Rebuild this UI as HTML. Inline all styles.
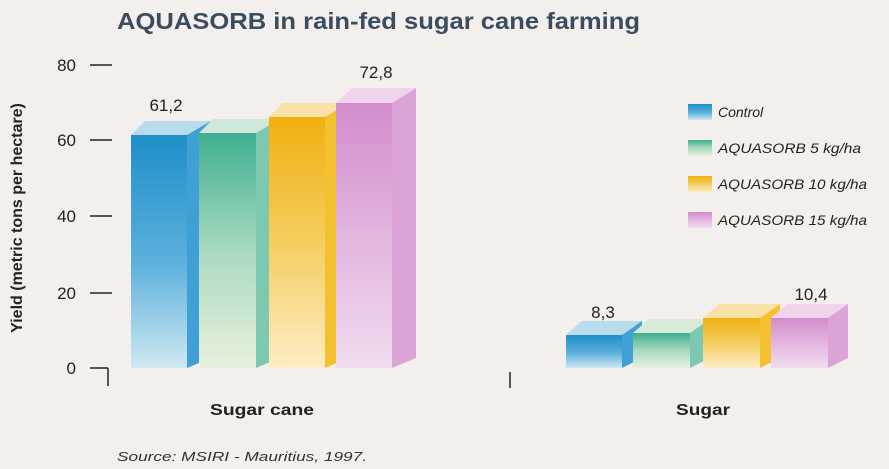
<!DOCTYPE html>
<html><head><meta charset="utf-8"><style>
html,body{margin:0;padding:0;background:#f2efed;}
svg{display:block;font-family:"Liberation Sans",sans-serif;}
</style></head><body>
<svg width="889" height="469" viewBox="0 0 889 469" xmlns="http://www.w3.org/2000/svg">
<defs>
<linearGradient id="gb" x1="0" y1="0" x2="0" y2="1"><stop offset="0" stop-color="#1e8fc8"/><stop offset="0.55" stop-color="#5cb0dc"/><stop offset="1" stop-color="#cfe8f2"/></linearGradient>
<linearGradient id="gg" x1="0" y1="0" x2="0" y2="1"><stop offset="0" stop-color="#3fae90"/><stop offset="0.5" stop-color="#a9d9c0"/><stop offset="1" stop-color="#e8f1dc"/></linearGradient>
<linearGradient id="gy" x1="0" y1="0" x2="0" y2="1"><stop offset="0" stop-color="#f0b010"/><stop offset="0.5" stop-color="#f5cd60"/><stop offset="1" stop-color="#fbecc4"/></linearGradient>
<linearGradient id="gp" x1="0" y1="0" x2="0" y2="1"><stop offset="0" stop-color="#d28ccc"/><stop offset="0.5" stop-color="#e3b5df"/><stop offset="1" stop-color="#f1dcef"/></linearGradient>
</defs>
<rect width="889" height="469" fill="#f2efed"/>
<text x="117" y="29" font-size="23" font-weight="bold" fill="#3b4c5e" textLength="523" lengthAdjust="spacingAndGlyphs">AQUASORB in rain-fed sugar cane farming</text>
<g stroke="#222" stroke-width="1.5">
<line x1="90" y1="65" x2="112" y2="65"/><line x1="90" y1="140" x2="112" y2="140"/><line x1="90" y1="216" x2="112" y2="216"/><line x1="90" y1="293" x2="112" y2="293"/><line x1="90" y1="368" x2="108" y2="368"/>
<line x1="108" y1="368" x2="108" y2="386"/><line x1="510" y1="372" x2="510" y2="388"/>
</g>
<g font-size="17" fill="#222" text-anchor="end">
<text x="76" y="71">80</text><text x="76" y="146">60</text><text x="76" y="222">40</text><text x="76" y="299">20</text><text x="76" y="374">0</text>
</g>
<text transform="translate(22,218) rotate(-90)" font-size="16" font-weight="bold" fill="#222" text-anchor="middle">Yield (metric tons per hectare)</text>
<g>
<polygon points="131,135 145,121 211,121 197,135" fill="#b8dcec"/><polygon points="187,135 211,121 211,358 187,368" fill="#3ea0d4"/><rect x="131" y="135" width="56" height="233" fill="url(#gb)"/>
<polygon points="199,133 213,119 280,119 266,133" fill="#cfe8d8"/><polygon points="256,133 280,119 280,358 256,368" fill="#7cc8b0"/><rect x="199" y="133" width="57" height="235" fill="url(#gg)"/>
<polygon points="269,117 283,103 349,103 335,117" fill="#f8e2a8"/><polygon points="325,117 349,103 349,358 325,368" fill="#f3c030"/><rect x="269" y="117" width="56" height="251" fill="url(#gy)"/>
<polygon points="336,103 352,88 416,88 392,103" fill="#f0d3ec"/><polygon points="392,103 416,88 416,358 392,368" fill="#dca4d6"/><rect x="336" y="103" width="56" height="265" fill="url(#gp)"/>
</g>
<g>
<polygon points="566,335 582,321 642,321 622,335" fill="#b8dcec"/><polygon points="622,335 642,321 642,358 622,368" fill="#3ea0d4"/><rect x="566" y="335" width="56" height="33" fill="url(#gb)"/>
<polygon points="633,333 649,319 710,319 690,333" fill="#d8ecd8"/><polygon points="690,333 710,319 710,358 690,368" fill="#7cc8b0"/><rect x="633" y="333" width="57" height="35" fill="url(#gg)"/>
<polygon points="703,318 719,304 780,304 760,318" fill="#f8e2a8"/><polygon points="760,318 780,304 780,358 760,368" fill="#f3c030"/><rect x="703" y="318" width="57" height="50" fill="url(#gy)"/>
<polygon points="771,318 787,304 848,304 828,318" fill="#f0d3ec"/><polygon points="828,318 848,304 848,358 828,368" fill="#dca4d6"/><rect x="771" y="318" width="57" height="50" fill="url(#gp)"/>
</g>
<g font-size="17" fill="#222" text-anchor="middle">
<text x="166" y="111">61,2</text><text x="376" y="78">72,8</text><text x="603" y="318">8,3</text><text x="811" y="300">10,4</text>
</g>
<g font-size="16" font-weight="bold" fill="#222">
<text x="210" y="415" textLength="104" lengthAdjust="spacingAndGlyphs">Sugar cane</text><text x="676" y="415" textLength="54" lengthAdjust="spacingAndGlyphs">Sugar</text>
</g>
<g>
<rect x="688" y="104" width="24" height="16" fill="url(#gb)"/>
<rect x="688" y="140" width="24" height="16" fill="url(#gg)"/>
<rect x="688" y="176" width="24" height="16" fill="url(#gy)"/>
<rect x="688" y="212" width="24" height="16" fill="url(#gp)"/>
</g>
<g font-size="14" font-style="italic" fill="#222">
<text x="718" y="117">Control</text><text x="718" y="153" textLength="143" lengthAdjust="spacingAndGlyphs">AQUASORB 5 kg/ha</text><text x="718" y="189" textLength="149" lengthAdjust="spacingAndGlyphs">AQUASORB 10 kg/ha</text><text x="718" y="225" textLength="149" lengthAdjust="spacingAndGlyphs">AQUASORB 15 kg/ha</text>
</g>
<text x="117" y="461" font-size="13" font-style="italic" fill="#333" textLength="250" lengthAdjust="spacingAndGlyphs">Source: MSIRI - Mauritius, 1997.</text>
</svg>
</body></html>
